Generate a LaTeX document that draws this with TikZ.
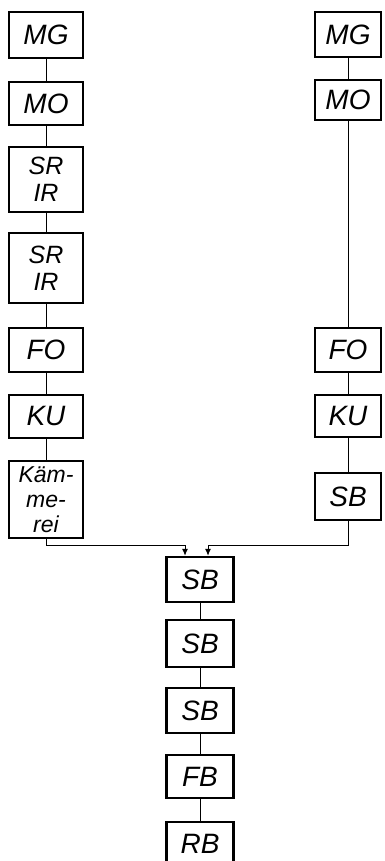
\documentclass[tikz,border=0pt]{standalone}
\usepackage{fontspec}
\setmainfont{Liberation Sans}
\usetikzlibrary{arrows.meta}
\tikzset{
  blk/.style={draw, line width=2.4pt, inner sep=0pt, font=\fontsize{28}{28}\selectfont\itshape, fill=white},
  blktwo/.style={blk, align=center, font=\fontsize{25}{27}\selectfont\itshape},
  blkthree/.style={blk, align=center, font=\fontsize{23}{25}\selectfont\itshape},
  lw/.style={minimum width=74pt},
  rw/.style={minimum width=66pt},
  bw/.style={minimum width=67pt},
  conn/.style={line width=1pt},
  arr/.style={line width=1pt, -{Latex[length=7pt,width=6pt]}}
}
\begin{document}
\begin{tikzpicture}[x=1pt,y=-1pt]
\clip (0,0) rectangle (385,861);
\useasboundingbox (0,0) rectangle (385,861);
\coordinate (ml) at (185,545);
\coordinate (mr) at (208,545);
% left column
\node[blk,lw,minimum height=46pt] (lmg) at (46,35) {MG};
\node[blk,lw,minimum height=43pt] (lmo) at (46,103.5) {MO};
\node[blktwo,lw,minimum height=65pt] (lsr1) at (46,179.5) {SR\\IR};
\node[blktwo,lw,minimum height=70pt] (lsr2) at (46,268) {SR\\IR};
\node[blk,lw,minimum height=44pt] (lfo) at (46,350) {FO};
\node[blk,lw,minimum height=43pt] (lku) at (46,416.5) {KU};
\node[blkthree,lw,minimum height=77pt] (lkm) at (46,499.5) {Käm-\\me-\\rei};
% right column
\node[blk,rw,minimum height=45pt] (rmg) at (348,34.5) {MG};
\node[blk,rw,minimum height=40pt] (rmo) at (348,100) {MO};
\node[blk,rw,minimum height=44pt] (rfo) at (348,350) {FO};
\node[blk,rw,minimum height=42pt] (rku) at (348,416) {KU};
\node[blk,rw,minimum height=47pt] (rsb) at (348,496.5) {SB};
% bottom column
\node[blk,bw,minimum height=45pt] (b1) at (200,579.5) {SB};
\node[blk,bw,minimum height=47pt] (b2) at (200,643.5) {SB};
\node[blk,bw,minimum height=45pt] (b3) at (200,710.5) {SB};
\node[blk,bw,minimum height=43pt] (b4) at (200,776.5) {FB};
\node[blk,bw,minimum height=44pt] (b5) at (200,844) {RB};
% connectors
\draw[conn] (lmg) -- (lmo);
\draw[conn] (lmo) -- (lsr1);
\draw[conn] (lsr1) -- (lsr2);
\draw[conn] (lsr2) -- (lfo);
\draw[conn] (lfo) -- (lku);
\draw[conn] (lku) -- (lkm);
\draw[conn] (rmg) -- (rmo);
\draw[conn] (rmo) -- (rfo);
\draw[conn] (rfo) -- (rku);
\draw[conn] (rku) -- (rsb);
\draw[conn] (b1) -- (b2);
\draw[conn] (b2) -- (b3);
\draw[conn] (b3) -- (b4);
\draw[conn] (b4) -- (b5);
\draw[arr] (lkm.south) |- (ml) -- (ml |- b1.north);
\draw[arr] (rsb.south) |- (mr) -- (mr |- b1.north);
\end{tikzpicture}
\end{document}
